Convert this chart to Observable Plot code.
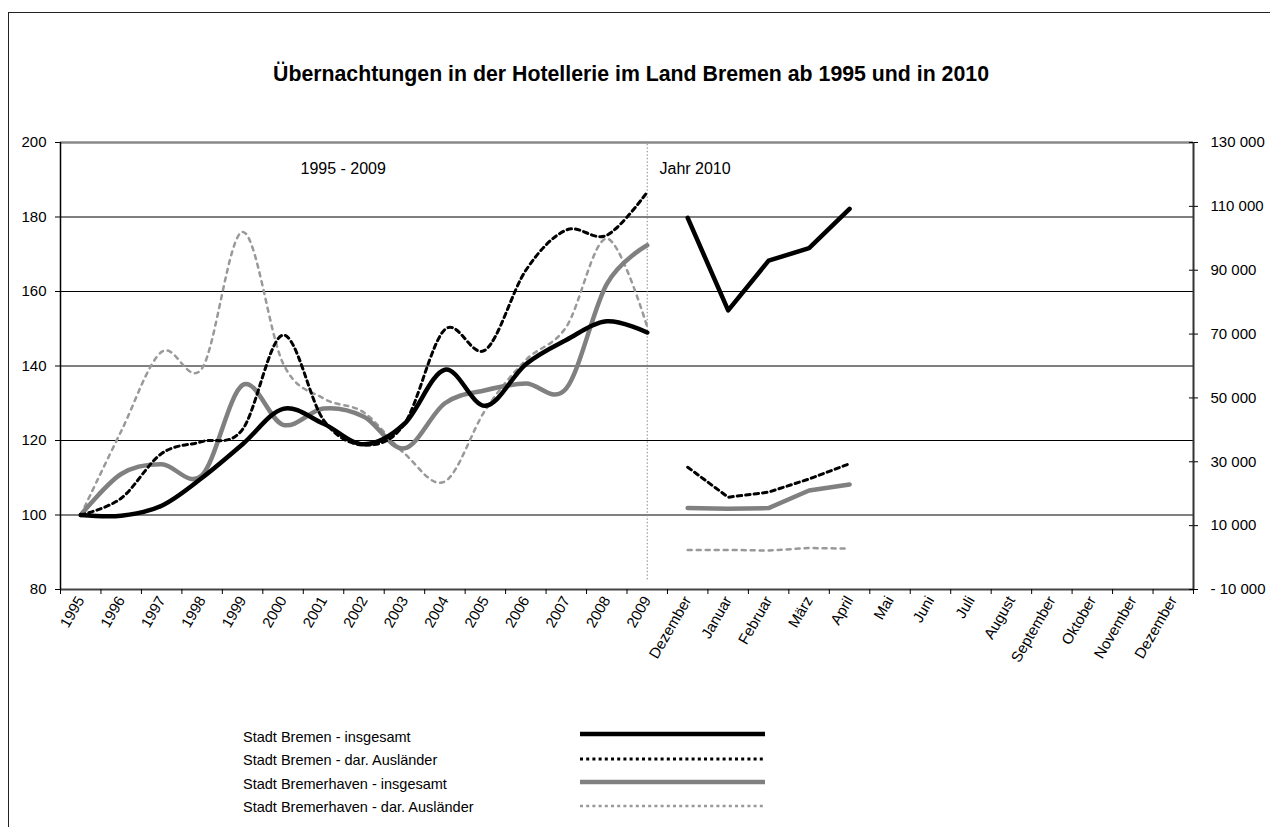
<!DOCTYPE html>
<html><head><meta charset="utf-8">
<script src="https://cdn.jsdelivr.net/npm/d3@7"></script>
<script src="https://cdn.jsdelivr.net/npm/@observablehq/plot@0.6"></script>
<style>
html,body{margin:0;padding:0;background:#fff;overflow:hidden;}
#page{position:relative;width:1270px;height:827px;overflow:hidden;font-family:"Liberation Sans",Arial,sans-serif;color:#000;background:#fff;}
#frame{position:absolute;left:8px;top:12px;width:1400px;height:1000px;border-left:1.5px solid #222;border-top:1.5px solid #222;}
#title{position:absolute;top:62px;left:0;width:1262px;text-align:center;font-weight:bold;font-size:21.3px;line-height:24px;}
#chart{position:absolute;left:0;top:100px;}
.leg{position:absolute;left:243px;font-size:14.5px;line-height:16px;white-space:nowrap;}
#legsvg{position:absolute;left:570px;top:720px;}
</style></head>
<body><div id="page"><div id="frame"></div>
<div id="title">Übernachtungen in der Hotellerie im Land Bremen ab 1995 und in 2010</div>
<div id="chart"></div>
<div id="legend"></div>
</div>
<script>
// categories
const years = ["1995","1996","1997","1998","1999","2000","2001","2002","2003","2004","2005","2006","2007","2008","2009"];
const months = ["Dezember","Januar","Februar","März","April","Mai","Juni","Juli","August","September","Oktober","November","Dezember"];
const seriesNames = ["Stadt Bremen - insgesamt","Stadt Bremen - dar. Ausländer","Stadt Bremerhaven - insgesamt","Stadt Bremerhaven - dar. Ausländer"];
// index 1995 = 100 (left axis)
const bremenTotal = [100, 99.8, 102.5, 110, 119, 128.5, 124.5, 119, 124.5, 139, 129.3, 140.5, 147, 152, 149];
const bremenForeign = [100, 104.5, 116.5, 119.7, 123, 148.3, 125.5, 118.8, 124.5, 149.8, 144.3, 165.7, 176.5, 175.1, 186.7];
const bremerhavenTotal = [100, 111, 113.6, 110.7, 134.9, 124.2, 128.6, 126.4, 117.9, 130, 133.5, 135.3, 134, 162, 172.4];
const bremerhavenForeign = [100, 122.5, 143.8, 139.4, 176, 140.7, 131.3, 127.5, 116.5, 109, 128.2, 141.6, 150.5, 174.2, 150.5];
// 2010 absolute values (right axis), Dezember..April
const bremen2010Total = [106400, 77400, 93000, 96900, 109200];
const bremen2010Foreign = [28300, 18900, 20500, 24600, 29400];
const bremerhaven2010Total = [15500, 15300, 15500, 21000, 22900];
const bremerhaven2010Foreign = [2400, 2400, 2200, 3000, 2800];
// axis ticks
const leftTicks = [80, 100, 120, 140, 160, 180, 200];
const rightTicks = [-10000, 10000, 30000, 50000, 70000, 90000, 110000, 130000];

const labels = years.concat(months);
const rightMin = -10000, rightMax = 130000, leftMin = 80, leftMax = 200;
const toLeft = v => leftMin + (v - rightMin) * (leftMax - leftMin) / (rightMax - rightMin);
const fromLeft = y => Math.round(rightMin + (y - leftMin) * (rightMax - rightMin) / (leftMax - leftMin));
const fmtNum = v => (v < 0 ? "- " : "") + d3.format(",")(Math.abs(v)).replace(/,/g, " ");

const styles = [
  {stroke: "#000", strokeWidth: 4.5, dash: null},
  {stroke: "#000", strokeWidth: 3, dash: "4.5,4"},
  {stroke: "#808080", strokeWidth: 4.5, dash: null},
  {stroke: "#999", strokeWidth: 2.5, dash: "4,5"}
];
const hist = [bremenTotal, bremenForeign, bremerhavenTotal, bremerhavenForeign];
const y2010 = [bremen2010Total, bremen2010Foreign, bremerhaven2010Total, bremerhaven2010Foreign];

const histData = hist.map((vals, s) => vals.map((v, i) => ({x: i, y: v})));
const data2010 = y2010.map((vals, s) => vals.map((v, i) => ({x: years.length + i, y: toLeft(v)})));

const marks = [
  Plot.ruleY([100, 120, 140, 160, 180], {stroke: "#000", strokeWidth: 1}),
  Plot.ruleY([200], {stroke: "#888", strokeWidth: 2.5}),
  Plot.ruleX([years.length - 1], {y1: 82.6, y2: 200, stroke: "#888", strokeWidth: 1, strokeDasharray: "1.5,2"}),
];
// draw order: gray dotted, gray solid, black dotted, black solid
[3, 2, 1, 0].forEach(s => {
  const st = styles[s];
  marks.push(Plot.line(histData[s], {x: "x", y: "y", curve: "cardinal", tension: 0, stroke: st.stroke, strokeWidth: st.strokeWidth, strokeDasharray: st.dash, strokeLinejoin: "round"}));
  marks.push(Plot.line(data2010[s], {x: "x", y: "y", stroke: st.stroke, strokeWidth: st.strokeWidth, strokeDasharray: st.dash, strokeLinejoin: "round"}));
});
marks.push(
  Plot.ruleY([80], {stroke: "#444", strokeWidth: 2}),
  Plot.ruleX([-0.5], {y1: 80, y2: 200, stroke: "#000", strokeWidth: 1.5}),
  Plot.ruleX([labels.length - 0.5], {y1: 80, y2: 200, stroke: "#333", strokeWidth: 2}),
  Plot.ruleY(rightTicks.map(toLeft), {x1: labels.length - 0.6, x2: labels.length - 0.5, stroke: "#000", strokeWidth: 1}),
  Plot.axisY({anchor: "left", label: null, ticks: leftTicks, tickSize: 5, tickPadding: 9, tickFormat: d => String(d), fontSize: 15}),
  Plot.axisY({anchor: "right", label: null, ticks: rightTicks.map(toLeft), tickSize: 4, tickPadding: 13, tickFormat: d => fmtNum(fromLeft(d)), fontSize: 15}),
  Plot.axisX({label: null, ticks: d3.range(labels.length + 1).map(i => i - 0.5), tickSize: 5, tickFormat: () => ""}),
  Plot.axisX({label: null, ticks: d3.range(labels.length), tickSize: 0, tickPadding: 8, tickRotate: -60, tickFormat: i => labels[i], fontSize: 15}),
  Plot.text(["1995 - 2009"], {frameAnchor: "top-left", dx: 240, dy: 26, lineAnchor: "middle", textAnchor: "start", fontSize: 16}),
  Plot.text(["Jahr 2010"], {frameAnchor: "top-left", dx: 599, dy: 26, lineAnchor: "middle", textAnchor: "start", fontSize: 16})
);

const chart = Plot.plot({
  width: 1270,
  height: 620,
  marginTop: 42,
  marginBottom: 131,
  marginLeft: 60,
  marginRight: 77,
  x: {type: "linear", domain: [-0.5, labels.length - 0.5]},
  y: {domain: [leftMin, leftMax]},
  style: {fontFamily: "'Liberation Sans', Arial, sans-serif", fontSize: "15px", color: "#000", background: "transparent", overflow: "visible"},
  marks
});
document.getElementById("chart").appendChild(chart);

// legend
const legend = document.getElementById("legend");
const rowY = [729, 752, 776, 799];
seriesNames.forEach((n, i) => {
  const d = document.createElement("div");
  d.className = "leg";
  d.style.top = rowY[i] + "px";
  d.textContent = n;
  legend.appendChild(d);
});
const lsvg = d3.create("svg").attr("id", "legsvg").attr("width", 210).attr("height", 100);
const lineY = [14, 39, 62, 86];
const legStyles = [
  {stroke: "#000", w: 4.5, dash: null},
  {stroke: "#000", w: 3, dash: "3,3.2"},
  {stroke: "#808080", w: 4.5, dash: null},
  {stroke: "#999", w: 2.5, dash: "3,3.2"}
];
legStyles.forEach((st, i) => {
  lsvg.append("line").attr("x1", 10).attr("x2", 195).attr("y1", lineY[i]).attr("y2", lineY[i])
    .attr("stroke", st.stroke).attr("stroke-width", st.w).attr("stroke-dasharray", st.dash);
});
legend.appendChild(lsvg.node());
</script>
</body></html>
